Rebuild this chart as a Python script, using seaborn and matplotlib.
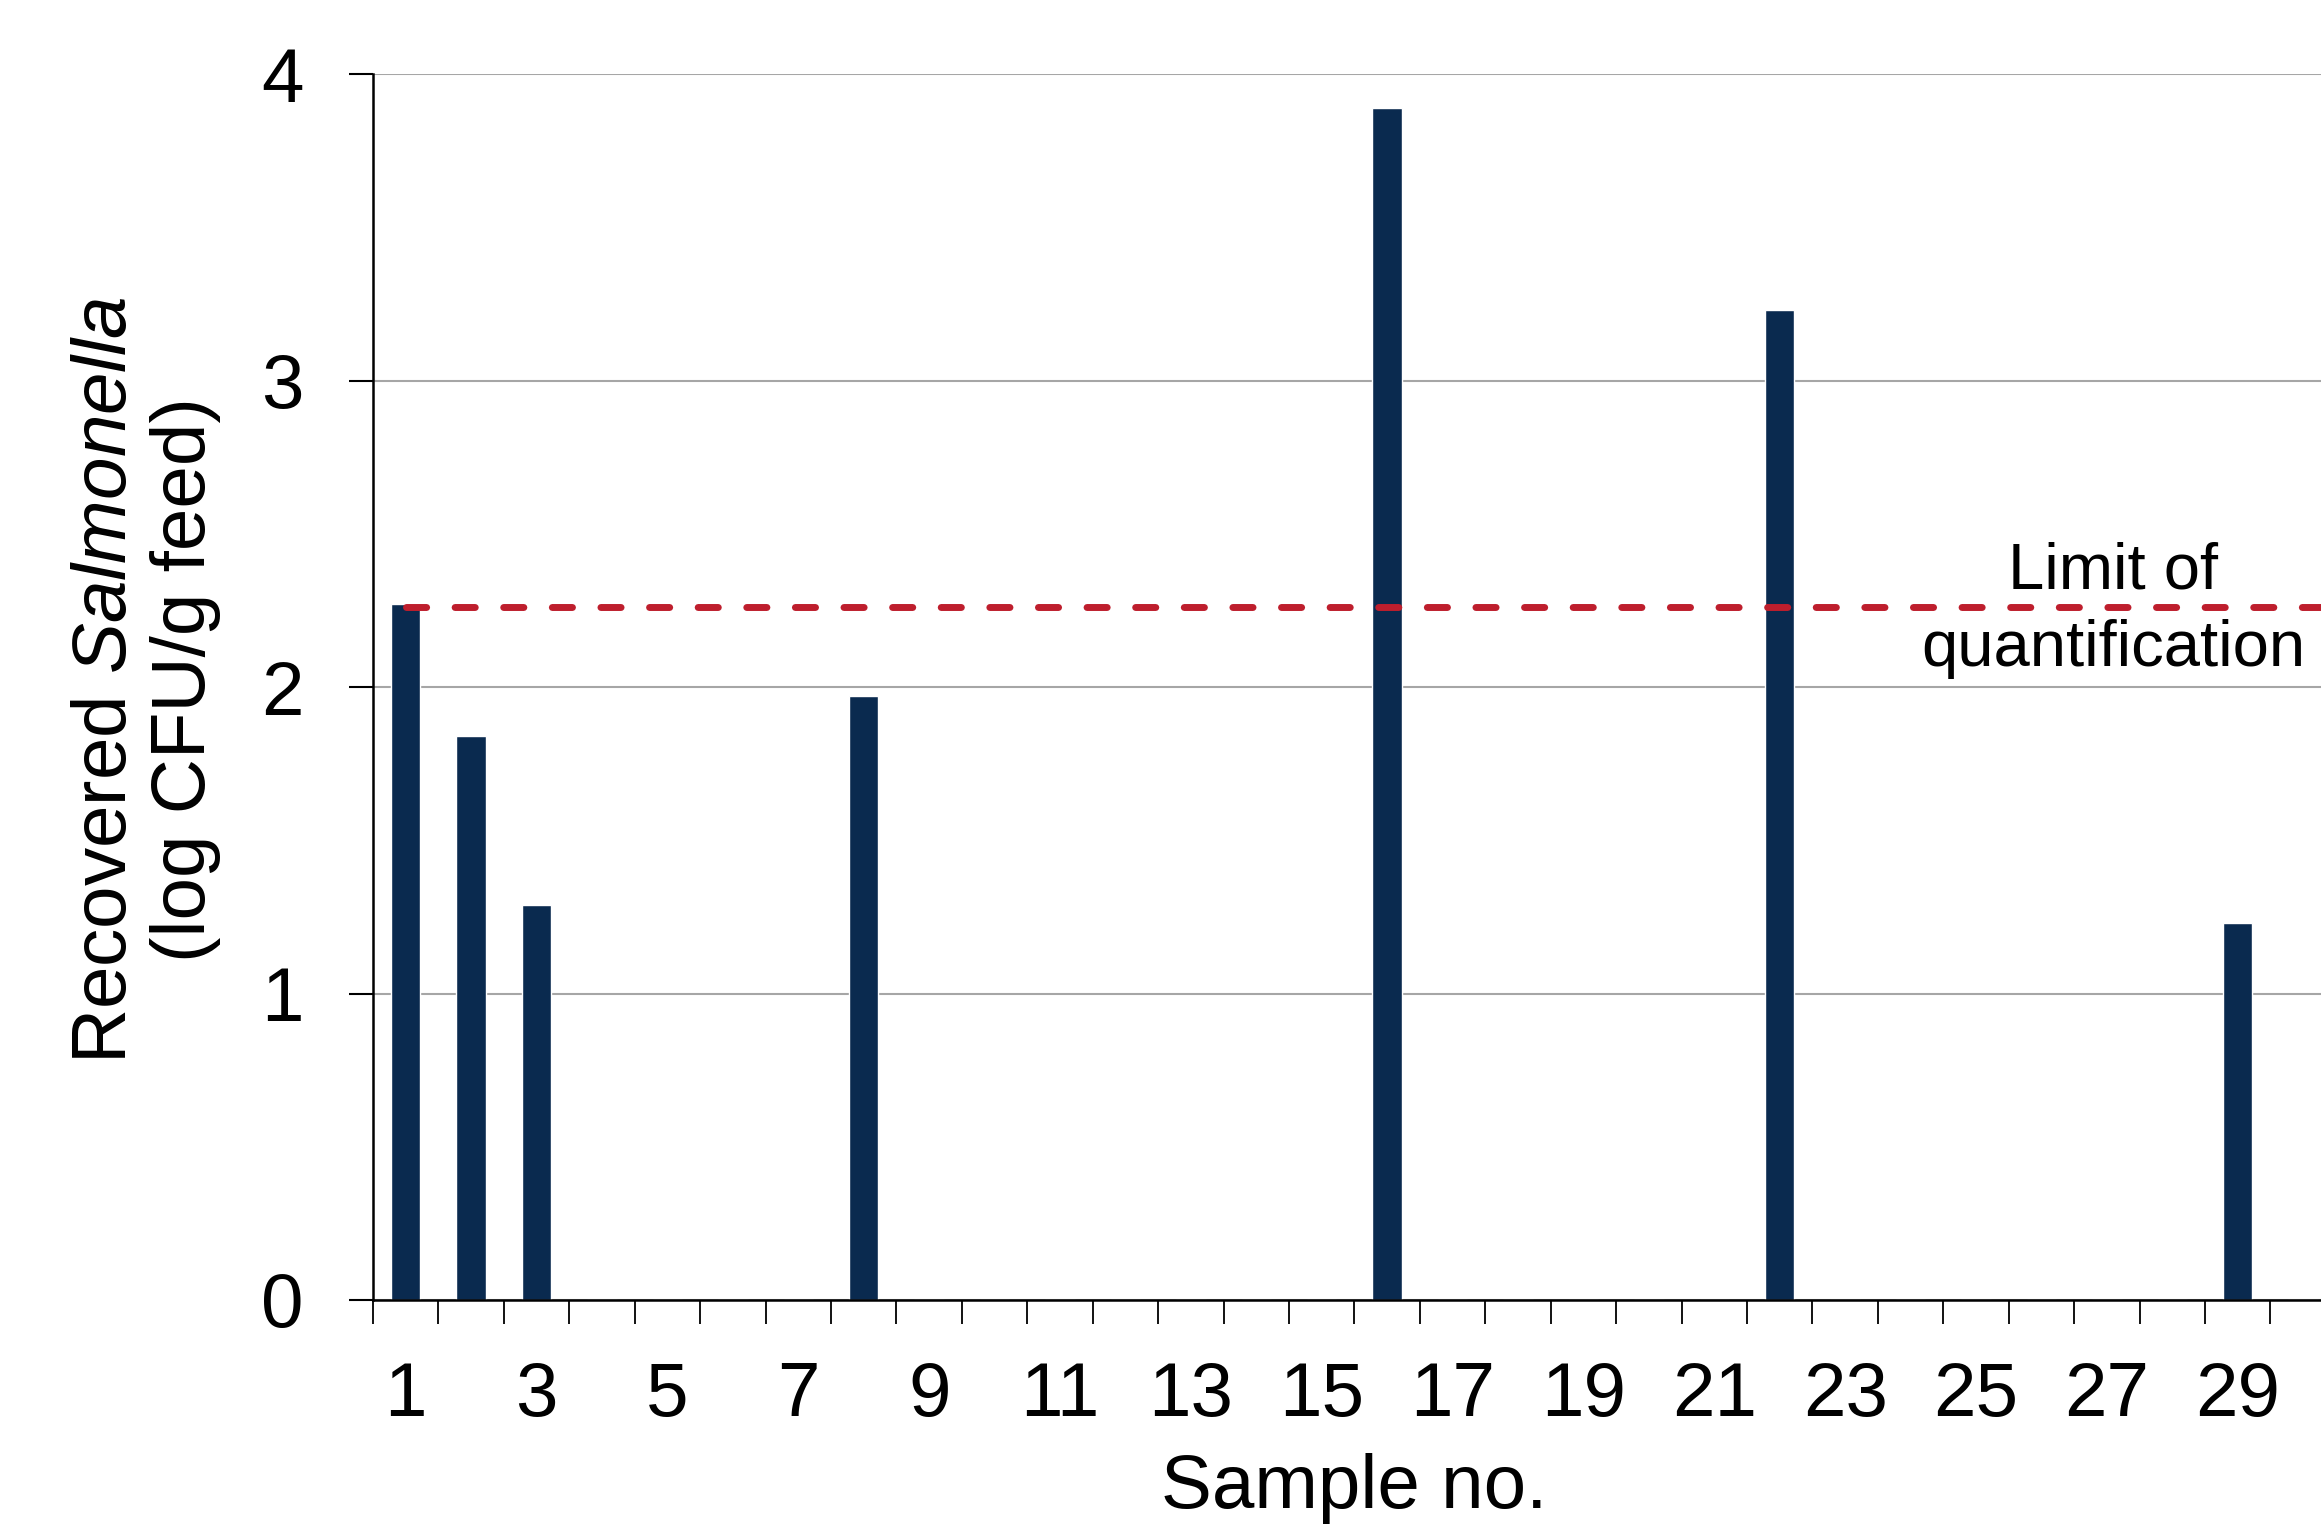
import matplotlib
matplotlib.use("Agg")
import numpy as np
import pandas as pd
import matplotlib.pyplot as plt
import seaborn as sns

# --- data ---
samples = list(range(1, 31))
recovered = [2.27, 1.84, 1.29, 0, 0, 0, 0, 1.97, 0, 0,
             0, 0, 0, 0, 0, 3.89, 0, 0, 0, 0,
             0, 3.23, 0, 0, 0, 0, 0, 0, 1.23, 0]
loq = 2.26
yticks = [0, 1, 2, 3, 4]
xlabels = [s for s in samples if s % 2 == 1]

BAR = "#0A2A4F"
RED = "#BE1E2D"
GRID = "#A6A6A6"

sns.set_theme(style="white")
plt.rcParams["font.family"] = ["Liberation Sans", "DejaVu Sans"]
plt.rcParams.update({
    "mathtext.fontset": "custom",
    "mathtext.rm": "Liberation Sans",
    "mathtext.it": "Liberation Sans:italic",
    "text.color": "black",
    "xtick.color": "black",
    "ytick.color": "black",
    "axes.labelcolor": "black",
})

df = pd.DataFrame({"sample": samples, "value": recovered})

fig = plt.figure(figsize=(23.21, 15.26), dpi=100)
ax = fig.add_axes([0.1607, 0.1481, 0.8457, 0.8034])

sns.barplot(data=df, x="sample", y="value", order=samples, color=BAR,
            saturation=1, width=0.45, ax=ax)

# limit of quantification, from the first sample to the right edge
ax.hlines(loq, 0, len(samples) - 0.5, color=RED, lw=5,
          linestyles=(0, (2.9, 4.1)), capstyle="round", zorder=4)
ax.text(26.1, loq + 0.06, "Limit of", ha="center", va="baseline", fontsize=47)
ax.text(26.1, loq - 0.19, "quantification", ha="center", va="baseline", fontsize=47)

ax.set_xlim(-0.5, len(samples) - 0.5)
ax.set_ylim(0, 4)

# boundary ticks (unlabelled) and odd-sample labels on minor ticks
ax.set_xticks(np.arange(-0.5, len(samples), 1))
ax.set_xticklabels([])
ax.set_xticks([s - 1 for s in xlabels], minor=True)
ax.set_xticklabels([str(s) for s in xlabels], minor=True, fontsize=55)
ax.tick_params(axis="x", which="major", direction="out", length=17, width=1.3,
               color="black", bottom=True)
ax.tick_params(axis="x", which="minor", length=0, pad=44, bottom=True,
               labelcolor="black")

ax.set_yticks(yticks)
ax.set_yticklabels([str(v) for v in yticks], fontsize=55)
ax.tick_params(axis="y", direction="out", length=17, width=1.5, color="black",
               pad=33, left=True, labelcolor="black")

ax.yaxis.grid(True, color=GRID, lw=1.5)
ax.xaxis.grid(False)
ax.set_axisbelow(True)
sns.despine(ax=ax, top=True, right=True)
for sp in ("left", "bottom"):
    ax.spines[sp].set_color("black")
    ax.spines[sp].set_linewidth(1.8)

ax.set_xlabel("")
ax.set_ylabel("")
fig.text(146 / 2321, 1 - 680 / 1526,
         "Recovered $\\mathit{Salmonella}$\n(log CFU/g feed)",
         rotation=90, ha="center", va="center", fontsize=55, linespacing=1.15,
         color="black")
fig.text(1354 / 2321, 1 - 1488 / 1526, "Sample no.", ha="center", va="center",
         fontsize=55, color="black")

fig.savefig("out.png", dpi=100)
